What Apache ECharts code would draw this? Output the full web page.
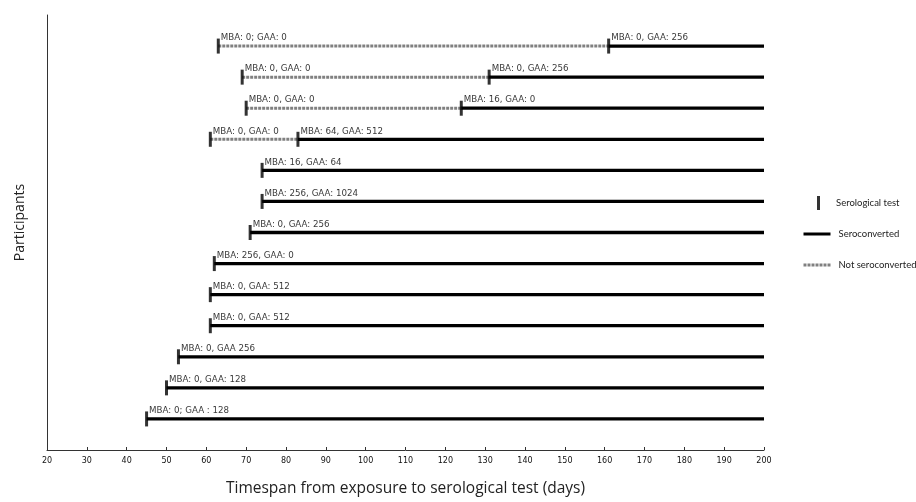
<!DOCTYPE html>
<html>
<head>
<meta charset="utf-8">
<script src="https://cdn.jsdelivr.net/npm/echarts@6/dist/echarts.min.js"></script>
<style>html,body{margin:0;padding:0;background:#fff}#c{width:916px;height:502px}</style>
</head>
<body>
<div id="c"></div>
<script>
// Participants from top to bottom
const firstTestDay = [63, 69, 70, 61, 74, 74, 71, 62, 61, 61, 53, 50, 45];
const secondTestDay = [161, 131, 124, 83, null, null, null, null, null, null, null, null, null];
const firstTestLabel = ['MBA: 0; GAA: 0', 'MBA: 0, GAA: 0', 'MBA: 0, GAA: 0', 'MBA: 0, GAA: 0',
  'MBA: 16, GAA: 64', 'MBA: 256, GAA: 1024', 'MBA: 0, GAA: 256', 'MBA: 256, GAA: 0',
  'MBA: 0, GAA: 512', 'MBA: 0, GAA: 512', 'MBA: 0, GAA 256', 'MBA: 0, GAA: 128', 'MBA: 0; GAA : 128'];
const secondTestLabel = ['MBA: 0, GAA: 256', 'MBA: 0, GAA: 256', 'MBA: 16, GAA: 0', 'MBA: 64, GAA: 512',
  null, null, null, null, null, null, null, null, null];
const endDay = 200;
const xTicks = [20, 200, 10]; // min, max, interval

const n = firstTestDay.length;
const dashedData = [], solidData = [], testData = [];
for (let i = 0; i < n; i++) {
  const y = n - i;
  const conv = secondTestDay[i] != null ? secondTestDay[i] : firstTestDay[i];
  if (secondTestDay[i] != null) {
    dashedData.push([firstTestDay[i], y], [secondTestDay[i], y], ['-', '-']);
  }
  solidData.push([conv, y], [endDay, y], ['-', '-']);
  testData.push([firstTestDay[i], y, firstTestLabel[i]]);
  if (secondTestDay[i] != null) testData.push([secondTestDay[i], y, secondTestLabel[i]]);
}

const legendFont = 'Lato';
const chart = echarts.init(document.getElementById('c'));
chart.setOption({
  animation: false,
  grid: { left: 47, right: 152, top: 15, bottom: 51 },
  xAxis: {
    type: 'value', min: xTicks[0], max: xTicks[1], interval: xTicks[2],
    name: 'Timespan from exposure to serological test (days)',
    nameLocation: 'middle', nameGap: 31,
    nameTextStyle: { fontFamily: 'Open Sans', fontSize: 15.5, color: '#222' },
    axisLine: { lineStyle: { color: '#333', width: 1 } },
    axisTick: { inside: true, length: 3, lineStyle: { color: '#333' } },
    axisLabel: { fontFamily: 'DejaVu Sans', fontSize: 8, color: '#111', margin: 7 },
    splitLine: { show: false }
  },
  yAxis: {
    type: 'value', min: 0, max: n + 1,
    name: 'Participants', nameLocation: 'middle', nameGap: 20, nameRotate: 90,
    nameTextStyle: { fontFamily: 'Open Sans', fontSize: 14, color: '#222', padding: [0, 0, 0, 20] },
    axisLine: { show: true, lineStyle: { color: '#333', width: 1 } },
    axisTick: { show: false }, axisLabel: { show: false }, splitLine: { show: false }
  },
  legend: [
    { data: ['Serological test'], left: 817, top: 196, padding: 0, icon: 'rect', itemWidth: 3, itemHeight: 14,
      textStyle: { fontFamily: legendFont, fontSize: 9.5, color: '#222', padding: [0, 0, 0, 11] } },
    { data: ['Seroconverted', 'Not seroconverted'], orient: 'vertical', left: 802, top: 229, padding: 0,
      itemWidth: 27, itemHeight: 12, itemGap: 21, itemStyle: { opacity: 0 }, lineStyle: { width: 3 },
      textStyle: { fontFamily: legendFont, fontSize: 9.5, color: '#222', padding: [0, 0, 0, 3] } }
  ],
  series: [
    { name: 'Not seroconverted', type: 'line', data: dashedData, showSymbol: false, symbol: 'none',
      connectNulls: false, z: 2,
      lineStyle: { color: '#808080', width: 3, type: [3, 1] }, itemStyle: { color: '#808080' } },
    { name: 'Seroconverted', type: 'line', data: solidData, showSymbol: false, symbol: 'none',
      connectNulls: false, z: 2,
      lineStyle: { color: '#000', width: 3.3 }, itemStyle: { color: '#000' } },
    { name: 'Serological test', type: 'scatter', data: testData, symbol: 'rect', symbolSize: [3, 15], z: 3,
      itemStyle: { color: '#000' },
      label: { show: true, position: [4, 4], verticalAlign: 'bottom', align: 'left',
        fontFamily: 'DejaVu Sans', fontSize: 8.7, color: '#000',
        formatter: p => p.data[2] } }
  ]
});
</script>
</body>
</html>
